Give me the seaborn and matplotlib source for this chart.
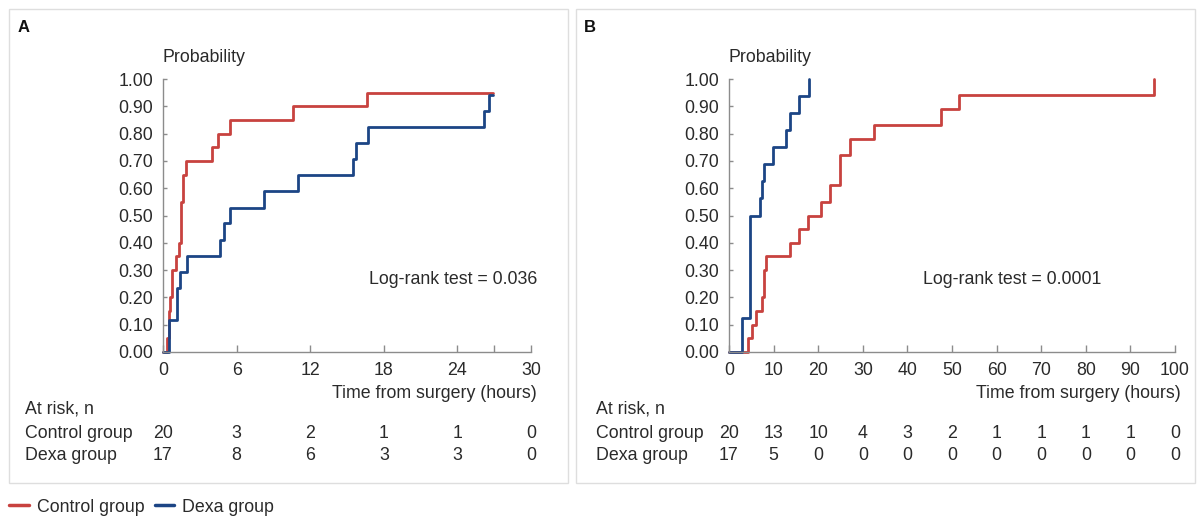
import pandas as pd
import matplotlib.pyplot as plt
import matplotlib.transforms as mtransforms
from matplotlib.patches import Rectangle
import seaborn as sns

# Set plot style
sns.set_style("white")
plt.rcParams['font.family'] = ['Liberation Sans', 'DejaVu Sans']
FS = 12.8
plt.rcParams['font.size'] = FS

RED = '#c8423f'
BLUE = '#1c4585'
TXT = '#2a2a2a'

# Panel A: Kaplan-Meier step data (time in hours, cumulative probability)
a_control_t = [0, 0.35, 0.5, 0.6, 0.7, 1.03, 1.3, 1.47, 1.65, 1.9, 4.0, 4.45, 5.43, 10.6, 16.6, 26.9]
a_control_p = [0, 0.05, 0.15, 0.20, 0.30, 0.35, 0.40, 0.55, 0.65, 0.70, 0.75, 0.80, 0.85, 0.90, 0.95, 0.95]
a_dexa_t = [0, 0.45, 1.12, 1.41, 1.93, 4.67, 4.97, 5.5, 8.2, 10.97, 15.5, 15.7, 16.73, 26.2, 26.55, 26.9]
a_dexa_p = [0, 0.118, 0.235, 0.294, 0.353, 0.412, 0.471, 0.529, 0.588, 0.647, 0.706, 0.765, 0.824,
            0.882, 0.941, 0.941]

# Panel B
b_control_t = [0, 4.33, 5.2, 6.1, 7.3, 7.8, 8.2, 13.7, 15.8, 17.8, 20.7, 22.7, 24.8, 27.2, 32.6, 47.6, 51.5, 95.4]
b_control_p = [0, 0.05, 0.10, 0.15, 0.20, 0.30, 0.35, 0.40, 0.45, 0.50, 0.55, 0.61, 0.72, 0.78, 0.83, 0.89,
               0.94, 1.0]
b_dexa_t = [0, 2.84, 4.78, 6.87, 7.31, 7.9, 9.85, 12.8, 13.7, 15.8, 17.9]
b_dexa_p = [0, 0.125, 0.5, 0.5625, 0.625, 0.6875, 0.75, 0.8125, 0.875, 0.9375, 1.0]

# At-risk tables
a_ticks = [0, 6, 12, 18, 24, 30]
a_risk_control = [20, 3, 2, 1, 1, 0]
a_risk_dexa = [17, 8, 6, 3, 3, 0]
b_ticks = [0, 10, 20, 30, 40, 50, 60, 70, 80, 90, 100]
b_risk_control = [20, 13, 10, 4, 3, 2, 1, 1, 1, 1, 0]
b_risk_dexa = [17, 5, 0, 0, 0, 0, 0, 0, 0, 0, 0]

groups = ['Control group', 'Dexa group']
palette = {'Control group': RED, 'Dexa group': BLUE}


def make_df(ct, cp, dt, dp):
    c = pd.DataFrame({'time': ct, 'prob': cp, 'group': groups[0]})
    d = pd.DataFrame({'time': dt, 'prob': dp, 'group': groups[1]})
    return pd.concat([c, d], ignore_index=True)


W, H = 1202, 518
fig = plt.figure(figsize=(W / 100, H / 100), dpi=100)


def fx(px):
    return px / W


def fy(py):
    return 1 - py / H


# panel frames
for x0, x1 in [(9, 568), (576, 1195)]:
    fig.patches.append(Rectangle((fx(x0), fy(483)), fx(x1 - x0), (483 - 9) / H,
                                 transform=fig.transFigure, fill=False,
                                 edgecolor='#dedede', linewidth=1.0))

panels = [
    dict(label='A', x0=163, x1=531, box=18, df=make_df(a_control_t, a_control_p, a_dexa_t, a_dexa_p),
         xmax=30, ticks=a_ticks, rc=a_risk_control, rd=a_risk_dexa, logrank='Log-rank test = 0.036',
         lr_x=537, title_r=537),
    dict(label='B', x0=729, x1=1175, box=584, df=make_df(b_control_t, b_control_p, b_dexa_t, b_dexa_p),
         xmax=100, ticks=b_ticks, rc=b_risk_control, rd=b_risk_dexa, logrank='Log-rank test = 0.0001',
         lr_x=1101, title_r=1181),
]

handles = None
for p in panels:
    ax = fig.add_axes([fx(p['x0']), fy(352), fx(p['x1'] - p['x0']), (352 - 79) / H])
    sns.lineplot(data=p['df'], x='time', y='prob', hue='group', palette=palette,
                 drawstyle='steps-post', estimator=None, sort=False, linewidth=2.0,
                 ax=ax, clip_on=False)
    handles, labels = ax.get_legend_handles_labels()
    ax.get_legend().remove()
    ax.set_xlim(0, p['xmax'])
    ax.set_ylim(0, 1)
    ax.set_xticks(p['ticks'])
    if p['label'] == 'A':
        ax.set_xticks([27], minor=True)
    ax.set_yticks([i / 10 for i in range(11)])
    ax.set_yticklabels([f'{i / 10:.2f}' for i in range(11)])
    ax.set_xlabel('')
    ax.set_ylabel('')
    for s in ['top', 'right']:
        ax.spines[s].set_visible(False)
    for s in ['left', 'bottom']:
        ax.spines[s].set_color('#8c8c8c')
        ax.spines[s].set_linewidth(1.0)
    ax.tick_params(axis='x', which='both', direction='in', length=5, width=1, color='#8c8c8c',
                   pad=7, labelsize=FS, labelcolor=TXT, bottom=True)
    ax.tick_params(axis='y', direction='in', length=3, width=1, color='#8c8c8c',
                   pad=7, labelsize=FS, labelcolor=TXT, left=True)
    ax.set_facecolor('none')

    fig.text(fx(p['box']), fy(28), p['label'], fontsize=12, fontweight='bold', color='#111',
             ha='left', va='center')
    fig.text(fx(p['x0']), fy(57), 'Probability', color=TXT, ha='left', va='center')
    fig.text(fx(p['title_r']), fy(394), 'Time from surgery (hours)', color=TXT, ha='right', va='center')
    fig.text(fx(p['lr_x']), fy(280), p['logrank'], color=TXT, ha='right', va='center')

    left = p['box'] + 7 if p['label'] == 'A' else p['box'] + 12
    fig.text(fx(left), fy(409), 'At risk, n', color=TXT, ha='left', va='center')
    fig.text(fx(left), fy(433), groups[0], color=TXT, ha='left', va='center')
    fig.text(fx(left), fy(456), groups[1], color=TXT, ha='left', va='center')
    trans = mtransforms.blended_transform_factory(ax.transData, fig.transFigure)
    for t, c, d in zip(p['ticks'], p['rc'], p['rd']):
        ax.text(t, fy(433), str(c), transform=trans, ha='center', va='center', color=TXT, clip_on=False)
        ax.text(t, fy(456), str(d), transform=trans, ha='center', va='center', color=TXT, clip_on=False)

leg = fig.legend(handles, labels, loc='center left', bbox_to_anchor=(fx(9), fy(507)), ncol=2,
                 frameon=False, handlelength=1.1, handletextpad=0.45, columnspacing=0.6,
                 borderaxespad=0, borderpad=0, fontsize=FS, labelcolor=TXT)
for ln in leg.get_lines():
    ln.set_linewidth(2.5)

plt.savefig('out.png', dpi=100)
plt.close()
